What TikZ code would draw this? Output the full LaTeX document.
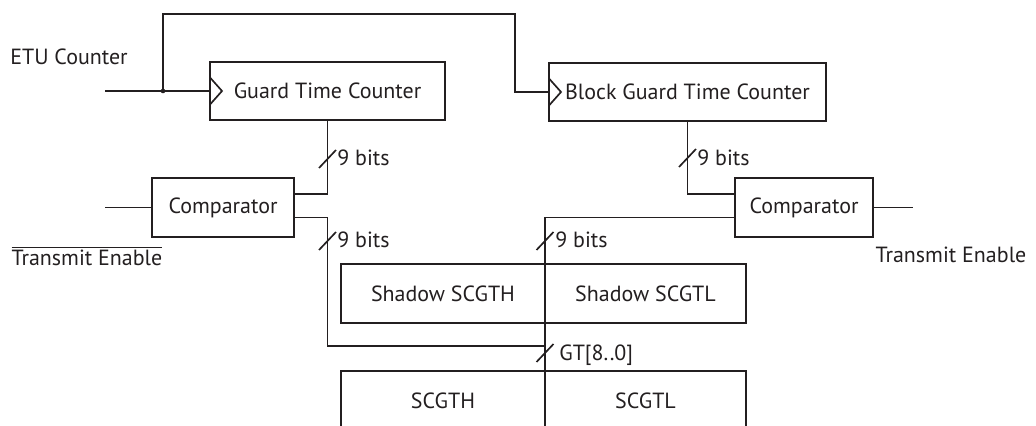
\documentclass[tikz,border=0pt]{standalone}
\usepackage{fontspec}
\setmainfont{PT Sans}
\usepackage{tikz}
\usetikzlibrary{positioning, calc}

\definecolor{ink}{HTML}{231F20}

\begin{document}
\begin{tikzpicture}[
    x=0.02cm, y=-0.02cm,
    every node/.style={font=\fontsize{12.5}{14}\selectfont, text=ink},
    wire/.style={draw=ink, line width=0.95pt},
    regbox/.style={rectangle, draw=ink, line width=0.95pt, minimum height=1.17cm, inner sep=0pt},
    clockbox/.style={regbox, path picture={
        \draw[wire] ([yshift=0.27cm]path picture bounding box.west)
          -- ([xshift=0.24cm]path picture bounding box.west)
          -- ([yshift=-0.27cm]path picture bounding box.west);}},
    lbl/.style={inner sep=0pt, anchor=west},
    slash/.style={wire}
]
\useasboundingbox (0,0) rectangle (1036,426);

% Counters
\node (gtc) [clockbox, minimum width=4.70cm] at (327.5,91) {Guard Time Counter};
\node (bgtc) [clockbox, minimum width=5.54cm] at (687.5,92) {Block Guard Time Counter};

% Comparators
\node (cmpL) [regbox, minimum width=2.84cm] at (223,207.5) {Comparator};
\node (cmpR) [regbox, minimum width=2.76cm] at (804,207.5) {Comparator};

% Registers
\node (shH) [regbox, minimum width=4.08cm] at (443,293.5) {Shadow SCGTH};
\node (shL) [regbox, minimum width=4.02cm] at (645.5,293.5) {Shadow SCGTL};
\node (regH) [regbox, minimum width=4.08cm] at (443,400.5) {SCGTH};
\node (regL) [regbox, minimum width=4.02cm] at (645.5,400.5) {SCGTL};

% Signal names
\node (etu) at (69,57) {ETU Counter};
\node (teL) at (87,256) {$\overline{\mbox{Transmit Enable}}$};
\node (teR) at (951,255) {Transmit Enable};

% Free ends and bends
\coordinate (etuin) at (105,91);
\coordinate (jn) at (163,91);
\coordinate (tr) at (515,14);
\coordinate (cmpLin) at (105,207.5);
\coordinate (cmpRout) at (913,207.5);
\coordinate (gtjoin) at (545,346);
\coordinate (busend) at (545,440);

% Wires
\draw [wire] (etuin) -- (gtc.west);
\fill [ink] (jn) circle (1.3pt);
\draw [wire] (jn) |- (tr) |- (bgtc.west);
\draw [wire] (gtc.south) |- ([yshift=0.27cm]cmpL.east);
\draw [wire] (bgtc.south) |- ([yshift=0.27cm]cmpR.west);
\draw [wire] (cmpLin) -- (cmpL.west);
\draw [wire] (cmpR.east) -- (cmpRout);
\draw [wire] ([yshift=-0.2cm]cmpL.east) -| (gtc.south |- gtjoin) -- (gtjoin);
\draw [wire] ([yshift=-0.2cm]cmpR.west) -| (busend);

% Bus widths
\coordinate (b1) at (327.5,159);
\draw [slash] (b1) ++(-8.5,9) -- ++(17,-18);
\node (b1l) [lbl] at (337,158) {9 bits};
\coordinate (b2) at (687.5,158);
\draw [slash] (b2) ++(-8.5,9) -- ++(17,-18);
\node (b2l) [lbl] at (697,158) {9 bits};
\coordinate (b3) at (327.5,241);
\draw [slash] (b3) ++(-8.5,9) -- ++(17,-18);
\node (b3l) [lbl] at (337,240) {9 bits};
\coordinate (b4) at (545,241);
\draw [slash] (b4) ++(-8.5,9) -- ++(17,-18);
\node (b4l) [lbl] at (555,240) {9 bits};
\coordinate (b5) at (545,353);
\draw [slash] (b5) ++(-8.5,9) -- ++(17,-18);
\node (b5l) [lbl] at (559,355) {GT[8..0]};

\end{tikzpicture}
\end{document}
